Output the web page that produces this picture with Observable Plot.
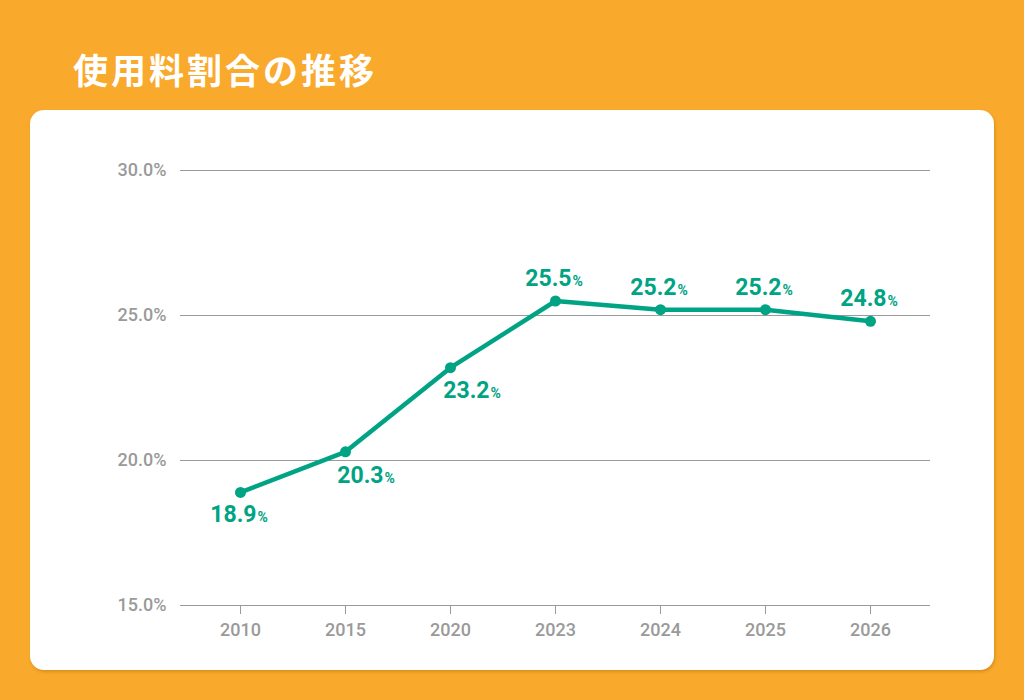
<!DOCTYPE html>
<html>
<head>
<meta charset="utf-8">
<script src="https://cdn.jsdelivr.net/npm/d3@7"></script>
<script src="https://cdn.jsdelivr.net/npm/@observablehq/plot@0.6"></script>
<style>
  html, body { margin: 0; padding: 0; }
  body { width: 1024px; height: 700px; background: #F9A92C; position: relative; overflow: hidden; font-family: "Noto Sans CJK JP", sans-serif; }
  #title { position: absolute; left: 73px; top: 44px; color: #fff; font-family: "Noto Sans CJK JP", sans-serif; font-weight: 700; font-size: 35px; letter-spacing: 3px; line-height: 50px; }
  #card { position: absolute; left: 30px; top: 110px; width: 964px; height: 560px; background: #fff; border-radius: 14px; box-shadow: 1px 2px 3px rgba(160,100,0,0.35); }
  #chart { position: absolute; left: 0; top: 0; }
</style>
</head>
<body>
<div id="title">使用料割合の推移</div>
<div id="card"></div>
<div id="chart"></div>
<script>
const years = ["2010", "2015", "2020", "2023", "2024", "2025", "2026"];
const values = [18.9, 20.3, 23.2, 25.5, 25.2, 25.2, 24.8];
const yTicks = [15, 20, 25, 30];

const data = years.map((y, i) => ({year: y, value: values[i]}));
const pick = (...ys) => data.filter(d => ys.includes(d.year));

const green = "#00A383";
const gray = "#9A9A9A";
const numFont = "Roboto, sans-serif";

const label = (arr, dx, dy) => [
  Plot.text(arr, {
    x: "year", y: "value", text: d => d.value.toFixed(1),
    textAnchor: "end", lineAnchor: "bottom", dx, dy,
    fill: green, fontSize: 23, fontWeight: 700, fontFamily: numFont
  }),
  Plot.text(arr, {
    x: "year", y: "value", text: () => "%",
    textAnchor: "start", lineAnchor: "bottom", dx: dx + 1, dy,
    fill: green, fontSize: 14, fontWeight: 700, fontFamily: numFont
  })
];

const chart = Plot.plot({
  width: 1024,
  height: 700,
  marginLeft: 180,
  marginRight: 94,
  marginTop: 170,
  marginBottom: 95,
  style: {background: "transparent", overflow: "visible"},
  x: {type: "point", domain: years, padding: 0.56, label: null},
  y: {domain: [15, 30], ticks: yTicks, label: null},
  marks: [
    Plot.ruleY(yTicks, {stroke: gray, strokeWidth: 1}),
    Plot.axisY({ticks: yTicks, tickSize: 0, tickPadding: 14, tickFormat: d => d.toFixed(1) + "%",
      fill: gray, fontSize: 18, fontWeight: 500, fontFamily: numFont, label: null}),
    Plot.axisX({tickSize: 9, tickPadding: 9, stroke: gray, fill: gray, fontSize: 18, fontWeight: 500, fontFamily: numFont, label: null}),
    Plot.line(data, {x: "year", y: "value", stroke: green, strokeWidth: 4.5, strokeLinejoin: "round"}),
    Plot.dot(data, {x: "year", y: "value", r: 5.5, fill: green}),
    label(pick("2023", "2024", "2025", "2026"), 16, -15),
    label(pick("2010"), 16, 30),
    label(pick("2015"), 38, 31),
    label(pick("2020"), 39, 30)
  ]
});
document.getElementById("chart").appendChild(chart);
</script>
</body>
</html>
